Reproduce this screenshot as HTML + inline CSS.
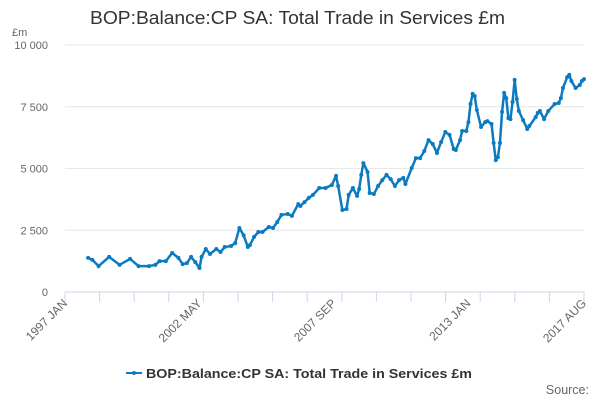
<!DOCTYPE html>
<html><head><meta charset="utf-8"><style>
body{margin:0;background:#fff;font-family:"Liberation Sans",sans-serif;}
svg text{font-family:"Liberation Sans",sans-serif;}
</style></head><body>
<svg id="chart" width="600" height="400" xmlns="http://www.w3.org/2000/svg">
<text x="90" y="24" textLength="415" lengthAdjust="spacingAndGlyphs" font-size="18" fill="#333">BOP:Balance:CP SA: Total Trade in Services £m</text>
<text x="12" y="36" font-size="11" fill="#666">£m</text>
<g id="grid"></g><g id="xaxis"></g><g id="series"></g>
<g>
<line x1="126" y1="373" x2="142" y2="373" stroke="#0b7bc1" stroke-width="2"/>
<circle cx="134" cy="373" r="2" fill="#0b7bc1"/>
<text x="146" y="378" textLength="326" lengthAdjust="spacingAndGlyphs" font-size="13" font-weight="bold" fill="#333">BOP:Balance:CP SA: Total Trade in Services £m</text>
</g>
<text x="589" y="394" text-anchor="end" font-size="12.5" fill="#666">Source:</text>
</svg>
<script>
const yTicks=[0,2500,5000,7500,10000];
const yTickLabels=["0","2 500","5 000","7 500","10 000"];
const xLabelMonths=[0,64,128,192,247];
const xLabels=["1997 JAN","2002 MAY","2007 SEP","2013 JAN","2017 AUG"];
const months=[11,13,16,21,26,31,35,40,43,45,48,51,54,56,58,60,62,64,65,67,69,72,74,76,79,81,83,85,87,88,90,92,94,97,99,101,103,106,108,111,112,114,116,118,121,124,127,129,130,132,134,135,137,139,140,141,142,144,145,147,149,151,153,155,157,159,161,162,165,167,169,171,173,175,177,179,181,183,185,186,188,189,191,192,193,194,195,196,198,200,201,203,204,205,206,207,208,209,210,211,212,213,214,215,216,218,220,221,224,225,226,228,230,233,235,236,237,239,240,241,243,245,246,247];
const values=[1380,1300,1050,1420,1100,1340,1050,1050,1100,1250,1250,1580,1380,1130,1170,1420,1210,970,1420,1740,1540,1740,1620,1820,1860,1980,2590,2300,1820,1900,2230,2430,2430,2630,2590,2830,3120,3160,3080,3560,3480,3640,3810,3930,4210,4210,4330,4700,4290,3320,3360,3930,4210,3890,4170,4740,5220,4860,4010,3970,4290,4530,4740,4570,4290,4530,4620,4370,5020,5420,5420,5710,6150,5990,5630,6070,6480,6360,5790,5750,6150,6520,6520,6880,7610,8020,7930,7370,6680,6880,6920,6800,6030,5340,5460,6030,7290,8060,7850,7040,7000,7690,8590,7810,7330,6960,6600,6720,7080,7250,7330,7000,7330,7610,7650,7850,8260,8700,8790,8540,8260,8380,8540,8620];
const NS="http://www.w3.org/2000/svg";
const X0=65,X1=584,MMAX=247,Y0=292,Y1=45,VMAX=10000;
const xs=m=>X0+(X1-X0)*m/MMAX;
const ys=v=>Y0-(Y0-Y1)*v/VMAX;
function mk(t,a,p){const e=document.createElementNS(NS,t);for(const k in a)e.setAttribute(k,a[k]);p.appendChild(e);return e;}
const grid=document.getElementById('grid');
yTicks.forEach((v,i)=>{
 if(v>0){const l=mk('line',{x1:X0,x2:X1,y1:ys(v),y2:ys(v),stroke:'#e6e6e6'},grid);
 
 }
 const t=mk('text',{x:48,y:ys(v)+4,'text-anchor':'end','font-size':11,fill:'#666'},grid);
 t.textContent=yTickLabels[i];
 
 
});
const xa=document.getElementById('xaxis');
const ax=mk('line',{x1:X0,x2:X1,y1:Y0,y2:Y0,stroke:'#ccd6eb'},xa);


for(let i=0;i<=15;i++){const x=X0+(X1-X0)*i/15;
 const tk=mk('line',{x1:x,x2:x,y1:Y0,y2:Y0+10,stroke:'#ccd6eb'},xa);
 
 }
xLabelMonths.forEach((m,i)=>{const x=xs(m);
 const t=mk('text',{x:x+3,y:Y0+12,'text-anchor':'end','font-size':12,fill:'#666',transform:`rotate(-45 ${x+3} ${Y0+12})`},xa);
 t.textContent=xLabels[i];
 
 });
const s=document.getElementById('series');
const pl=mk('polyline',{points:months.map((m,i)=>xs(m)+','+ys(values[i])).join(' '),fill:'none',stroke:'#0b7bc1','stroke-width':2.5,'stroke-linejoin':'round'},s);


months.forEach((m,i)=>{const c=mk('circle',{cx:xs(m),cy:ys(values[i]),r:2,fill:'#0b7bc1'},s);
 
 });
</script>
</body></html>
